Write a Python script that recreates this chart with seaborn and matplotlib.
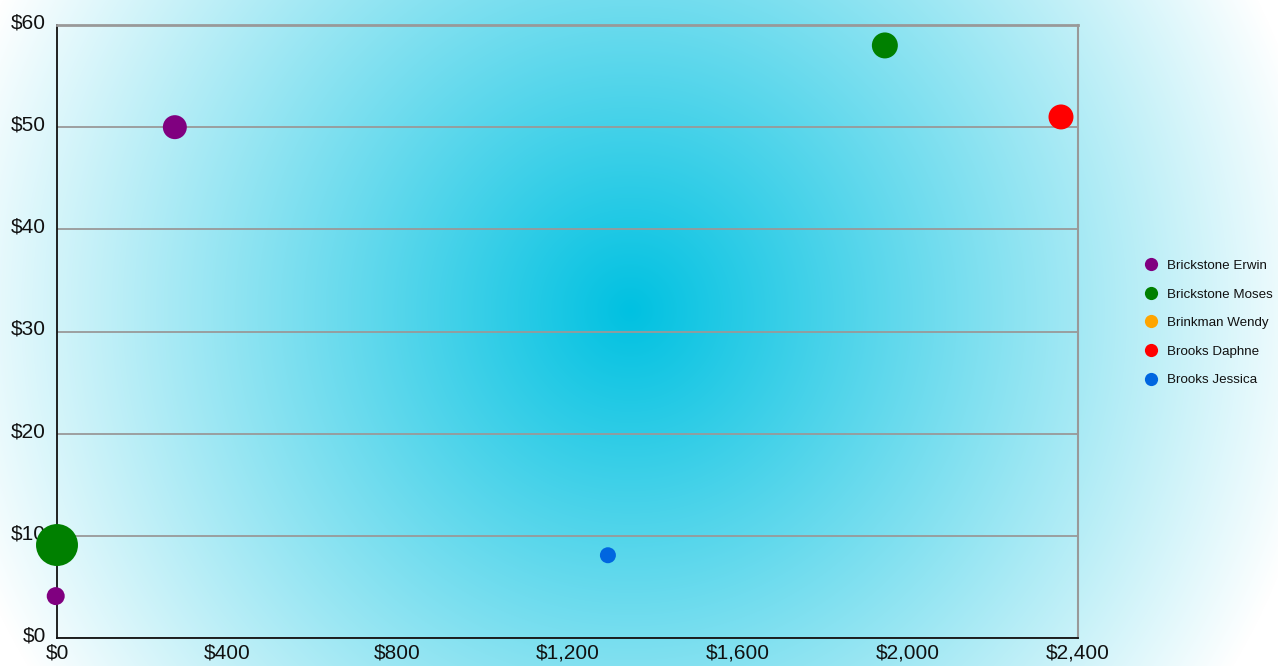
import numpy as np
import pandas as pd
import matplotlib
matplotlib.use("Agg")
import matplotlib.pyplot as plt
from matplotlib.lines import Line2D
from matplotlib.transforms import ScaledTranslation
import seaborn as sns

# ---- data ----
series_names = ["Brickstone Erwin", "Brickstone Moses", "Brinkman Wendy", "Brooks Daphne", "Brooks Jessica"]
series_colors = ["#800080", "#008000", "#FFA500", "#FF0000", "#0066E0"]

point_series = ["Brickstone Erwin", "Brickstone Erwin", "Brickstone Moses", "Brickstone Moses", "Brooks Daphne", "Brooks Jessica"]
point_x = [277, -3, 0, 1946, 2360, 1295]
point_y = [50.0, 4.1, 9.1, 58.0, 51.0, 8.1]
point_volume = [144, 81, 441, 169, 156, 64]

x_ticks = [0, 400, 800, 1200, 1600, 2000, 2400]
y_ticks = [0, 10, 20, 30, 40, 50, 60]

df = pd.DataFrame({"series": point_series, "x": point_x, "y": point_y, "volume": point_volume})

sns.set_theme(style="white")
plt.rcParams["font.family"] = ["Liberation Sans", "DejaVu Sans"]

W, H = 1278, 666
fig = plt.figure(figsize=(W / 100, H / 100), dpi=100)

# radial gradient background
bg = fig.add_axes([0, 0, 1, 1], zorder=-10)
yy, xx = np.mgrid[0:H, 0:W]
r = np.sqrt((xx - 630) ** 2 + (yy - 310) ** 2) / 700.0
t = np.clip(r, 0, 1)[..., None]
c0 = np.array([0, 193, 225]) / 255.0
c1 = np.array([1.0, 1.0, 1.0])
img = c0 * (1 - t) + c1 * t
bg.imshow(img, aspect="auto", extent=[0, W, H, 0])
bg.set_axis_off()

left, right, top, bottom = 57, 1078, 25, 638
ax = fig.add_axes([left / W, 1 - bottom / H, (right - left) / W, (bottom - top) / H])
ax.set_facecolor("none")

palette = dict(zip(series_names, series_colors))
sns.scatterplot(data=df, x="x", y="y", hue="series", palette=palette, size="volume",
                sizes=(0, 2.07 * 450), size_norm=(0, 450), legend=False,
                linewidth=0, alpha=1, ax=ax, clip_on=False, zorder=5)

ax.set_xlim(0, 2400)
ax.set_ylim(0, 60)
ax.set_xticks(x_ticks)
ax.set_yticks(y_ticks)
ax.set_xticklabels([f"${v:,}" for v in x_ticks])
ax.set_yticklabels([f"${v}" for v in y_ticks])
ax.set_xlabel("")
ax.set_ylabel("")
ax.tick_params(axis="both", length=0, labelsize=15, labelcolor="#111111")
ax.tick_params(axis="y", pad=8)
ax.tick_params(axis="x", pad=4)
for lab in ax.get_yticklabels():
    lab.set_transform(lab.get_transform() + ScaledTranslation(0, 4 / 100, fig.dpi_scale_trans))

ax.yaxis.grid(True, color="#999999", linewidth=1.3)
ax.xaxis.grid(False)
ax.set_axisbelow(True)
for side in ["left", "bottom"]:
    ax.spines[side].set_color("#111111")
    ax.spines[side].set_linewidth(1.3)
ax.spines["top"].set_color("#999999")
ax.spines["top"].set_linewidth(2)
ax.spines["right"].set_color("#999999")
ax.spines["right"].set_linewidth(1.5)

handles = [Line2D([0], [0], marker="o", linestyle="", markersize=9.5, markerfacecolor=c,
                  markeredgewidth=0, label=n) for n, c in zip(series_names, series_colors)]
fig.legend(handles=handles, loc="center left", bbox_to_anchor=(1131 / W, 1 - 323 / H),
           frameon=False, fontsize=9.6, labelspacing=1.22, handletextpad=0.58,
           handlelength=1.2, labelcolor="#111111")

fig.savefig("out.png", dpi=100)
